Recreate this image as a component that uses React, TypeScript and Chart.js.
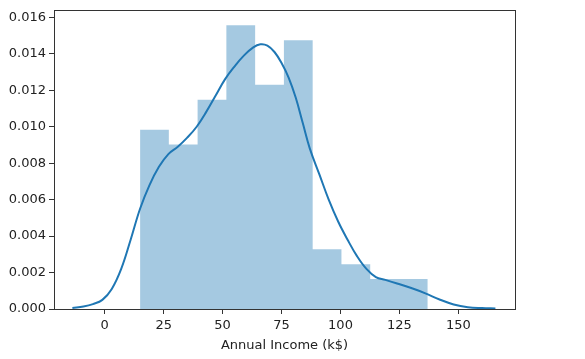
import React, { useEffect, useRef } from "react";
import { Chart, registerables } from "chart.js";

Chart.register(...registerables);

// Histogram bin edges and densities (Annual Income k$)
const binEdges = [15, 27.2, 39.4, 51.6, 63.8, 76, 88.2, 100.4, 112.6, 124.8, 137];
const binDensity = [0.00984, 0.00902, 0.01148, 0.01557, 0.0123, 0.01475, 0.00328, 0.00246, 0.00164, 0.00164];

// KDE curve
const kdeX = [-13.7, -9, -5, -1, 3, 7, 11, 15, 19, 23, 27, 31, 35, 39, 43, 47, 51, 55, 59, 63, 66, 69, 72, 75, 78, 81, 84, 87, 91, 95, 99, 103, 107, 111, 115, 119, 124, 130, 136, 142, 148, 154, 160, 165.7];
const kdeY = [0.00006, 0.00014, 0.00027, 0.0005, 0.0011, 0.0022, 0.0038, 0.0055, 0.0068, 0.0078, 0.0085, 0.0089, 0.0094, 0.01, 0.0108, 0.0117, 0.0126, 0.0133, 0.0139, 0.01435, 0.01452, 0.01445, 0.0141, 0.0135, 0.0127, 0.0116, 0.0102, 0.0088, 0.0074, 0.006, 0.0048, 0.0038, 0.0029, 0.0022, 0.00175, 0.0016, 0.0014, 0.00115, 0.00086, 0.00052, 0.00025, 0.0001, 0.00005, 0.00003];

const xTickMin = -21.5;
const xTickMax = 174;
const yMax = 0.01636;
const xLabel = "Annual Income (k$)";

const FONT = "'DejaVu Sans', sans-serif";
const TEXT = "#222222";
const AXIS = "#333333";

export default function App() {
  const ref = useRef<HTMLCanvasElement | null>(null);

  useEffect(() => {
    if (!ref.current) return;
    const histData = binDensity.map((d, i) => ({ x: binEdges[i], y: d }));
    histData.push({ x: binEdges[binEdges.length - 1], y: binDensity[binDensity.length - 1] });
    const kdeData = kdeX.map((x, i) => ({ x, y: kdeY[i] }));

    const frame = {
      id: "frame",
      afterDatasetsDraw(chart: any) {
        const { ctx, chartArea } = chart;
        const l = Math.floor(chartArea.left) + 0.5;
        const t = Math.floor(chartArea.top) + 0.5;
        const r = Math.floor(chartArea.right) + 0.5;
        const b = Math.floor(chartArea.bottom) + 0.5;
        ctx.save();
        ctx.strokeStyle = AXIS;
        ctx.lineWidth = 1;
        ctx.strokeRect(l, t, r - l, b - t);
        ctx.restore();
      },
    };

    const chart = new Chart(ref.current, {
      type: "line",
      data: {
        datasets: [
          {
            label: "kde",
            data: kdeData,
            borderColor: "#1f77b4",
            borderWidth: 2,
            pointRadius: 0,
            fill: false,
            tension: 0.4,
            order: 0,
          },
          {
            label: "hist",
            data: histData,
            stepped: "before",
            borderWidth: 0,
            borderColor: "rgba(0,0,0,0)",
            backgroundColor: "rgba(31,119,180,0.4)",
            pointRadius: 0,
            fill: "origin",
            order: 1,
          },
        ],
      },
      options: {
        animation: false,
        responsive: true,
        maintainAspectRatio: false,
        layout: { padding: { top: 10, right: 70, left: 0, bottom: 0 } },
        plugins: { legend: { display: false }, tooltip: { enabled: false } },
        scales: {
          x: {
            type: "linear",
            min: xTickMin,
            max: xTickMax,
            afterFit: (s: any) => {
              s.height = 50;
            },
            ticks: {
              stepSize: 25,
              includeBounds: false,
              autoSkip: false,
              maxRotation: 0,
              padding: 4,
              color: TEXT,
              font: { family: FONT, size: 13 },
              callback: (v: any) => String(v),
            },
            grid: { display: true, drawOnChartArea: false, drawTicks: true, tickLength: 5, tickColor: AXIS },
            border: { display: false },
            title: {
              display: true,
              text: xLabel,
              color: TEXT,
              font: { family: FONT, size: 13 },
              padding: { top: 0, bottom: 6 },
            },
          },
          y: {
            type: "linear",
            min: 0,
            max: yMax,
            afterFit: (s: any) => {
              s.width = 54;
            },
            ticks: {
              stepSize: 0.002,
              includeBounds: false,
              padding: 3,
              color: TEXT,
              font: { family: FONT, size: 13 },
              callback: (v: any) => Number(v).toFixed(3),
            },
            grid: { display: true, drawOnChartArea: false, drawTicks: true, tickLength: 5, tickColor: AXIS },
            border: { display: false },
          },
        },
      },
      plugins: [frame],
    });
    return () => chart.destroy();
  }, []);

  return (
    <div style={{ position: "fixed", left: 0, top: 0, width: 585, height: 359, background: "#fff" }}>
      <canvas ref={ref} />
    </div>
  );
}
